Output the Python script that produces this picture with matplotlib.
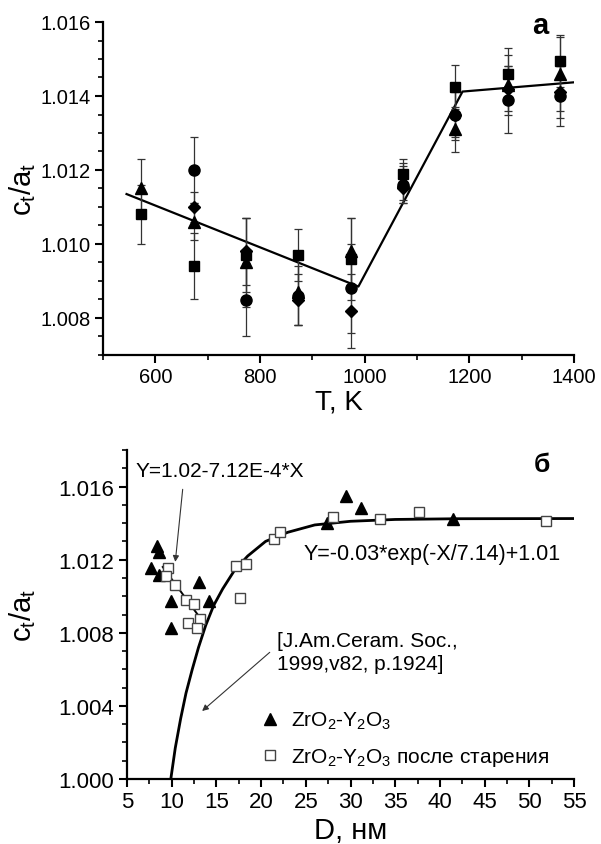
import numpy as np
import matplotlib
matplotlib.use("Agg")
import matplotlib.pyplot as plt
from matplotlib.ticker import MultipleLocator

plt.rcParams['font.family'] = ['Liberation Sans', 'DejaVu Sans']
plt.rcParams['mathtext.default'] = 'regular'

# ---------------- panel a data ----------------
T = [573, 673, 773, 873, 973, 1073, 1173, 1273, 1373]
c_square = [1.0108, 1.0094, 1.0097, 1.0097, 1.0096, 1.0119, 1.01425, 1.0146, 1.01495]
c_circle = [np.nan, 1.0120, 1.0085, 1.0086, 1.0088, 1.0116, 1.0135, 1.0139, 1.0140]
c_triangle = [1.0115, 1.0106, 1.0095, 1.0087, 1.0098, 1.0117, 1.0131, 1.0143, 1.0146]
c_diamond = [np.nan, 1.0110, 1.0098, 1.0085, 1.0082, 1.0115, 1.0135, 1.0142, 1.0141]
err_square = [0.0008, 0.0009, 0.0010, 0.0007, 0.0011, 0.0004, 0.0006, 0.0007, 0.0007]
err_circle = [np.nan, 0.0009, 0.0010, 0.0008, 0.0012, 0.0005, 0.0007, 0.0009, 0.0008]
err_triangle = [0.0008, 0.0005, 0.0012, 0.0009, 0.0009, 0.0005, 0.0006, 0.0008, 0.0010]
err_diamond = [np.nan, 0.0004, 0.0009, 0.0007, 0.0010, 0.0004, 0.0006, 0.0006, 0.0007]
fit_T = [545, 988, 1187, 1400]
fit_c = [1.01135, 1.00885, 1.01412, 1.01437]

# ---------------- panel b data ----------------
D_tri = [8.36, 8.58, 7.68, 8.58, 13.05, 9.92, 14.17, 9.92, 29.5, 31.2, 27.4, 41.5]
c_tri = [1.01277, 1.01244, 1.01156, 1.01118, 1.0108, 1.00975, 1.00975, 1.00827,
         1.0155, 1.0148, 1.01398, 1.0142]
D_sq = [9.6, 9.4, 10.4, 11.6, 12.5, 13.2, 11.8, 12.8, 17.2, 18.3, 17.6, 21.4, 22.1,
        28.0, 33.3, 37.7, 51.9]
c_sq = [1.01156, 1.01113, 1.01063, 1.0098, 1.00959, 1.00877, 1.00855, 1.00827,
        1.01167, 1.01178, 1.00992, 1.01315, 1.01353, 1.01436, 1.0142, 1.01463, 1.01414]
lin_D = [9.0, 13.5]
lin_c = [1.0116, 1.0086]
exp_D = [9.9, 10.4, 11.0, 11.6, 12.3, 13.0, 13.8, 14.7, 15.7, 17.0, 18.5, 20.5,
         23.0, 26.0, 30.0, 35.0, 42.0, 55.0]
exp_c = [1.0000, 1.0017, 1.0033, 1.0047, 1.0060, 1.0072, 1.0084, 1.0095, 1.0104,
         1.0114, 1.0122, 1.0130, 1.0135, 1.0139, 1.0141, 1.0142, 1.01424, 1.01425]

fig = plt.figure(figsize=(6.01, 8.45), dpi=100)

def style_axes(ax, fs):
    for s in ['top', 'right']:
        ax.spines[s].set_visible(False)
    for s in ['left', 'bottom']:
        ax.spines[s].set_linewidth(1.6)
    ax.tick_params(which='major', direction='out', length=6, width=1.5, labelsize=fs, pad=3)
    ax.tick_params(which='minor', direction='out', length=3.5, width=1.2)

# ---------------- panel a ----------------
ax1 = fig.add_axes([103/601, 1-356/845, (574-103)/601, (356-23)/845])
style_axes(ax1, 14.5)
ax1.plot(fit_T, fit_c, color='black', lw=1.6, zorder=2)
ebkw = dict(ecolor='#333333', elinewidth=0.9, capsize=3, capthick=0.9, ls='none',
            color='black', zorder=3)
ax1.errorbar(T, c_square, yerr=err_square, marker='s', ms=7, **ebkw)
ax1.errorbar(T, c_circle, yerr=err_circle, marker='o', ms=8, **ebkw)
ax1.errorbar(T, c_triangle, yerr=err_triangle, marker='^', ms=8, **ebkw)
ax1.errorbar(T, c_diamond, yerr=err_diamond, marker='D', ms=6.5, **ebkw)
ax1.set_xlim(500, 1400)
ax1.set_ylim(1.007, 1.016)
ax1.xaxis.set_major_locator(MultipleLocator(200))
ax1.xaxis.set_minor_locator(MultipleLocator(100))
ax1.yaxis.set_major_locator(MultipleLocator(0.002))
ax1.yaxis.set_minor_locator(MultipleLocator(0.0005))
ax1.yaxis.set_major_formatter(matplotlib.ticker.FormatStrFormatter('%.3f'))
ax1.set_xlabel('T, K', fontsize=20)
ax1.set_ylabel('c$_t$/a$_t$', fontsize=21)
ax1.xaxis.set_label_coords(0.5, -0.102)
ax1.yaxis.set_label_coords(-0.138, 0.5)
ax1.text(0.928, 0.99, 'а', transform=ax1.transAxes, fontsize=21, fontweight='bold',
         ha='center', va='center')

# ---------------- panel b ----------------
ax2 = fig.add_axes([127/601, 1-780/845, (574-127)/601, (780-451)/845])
style_axes(ax2, 16)
ax2.plot(exp_D, exp_c, color='black', lw=2.0, zorder=2)
ax2.plot(lin_D, lin_c, color='black', lw=1.4, zorder=2)
ax2.plot(D_tri, c_tri, ls='none', marker='^', ms=8.5, color='black',
         label='ZrO$_2$-Y$_2$O$_3$', zorder=3)
ax2.plot(D_sq, c_sq, ls='none', marker='s', ms=7.5, mfc='white', mec='#444444', mew=1.0,
         label='ZrO$_2$-Y$_2$O$_3$ после старения', zorder=3)
ax2.set_xlim(5, 55)
ax2.set_ylim(1.000, 1.018)
ax2.xaxis.set_major_locator(MultipleLocator(5))
ax2.xaxis.set_minor_locator(MultipleLocator(2.5))
ax2.yaxis.set_major_locator(MultipleLocator(0.004))
ax2.yaxis.set_minor_locator(MultipleLocator(0.001))
ax2.yaxis.set_major_formatter(matplotlib.ticker.FormatStrFormatter('%.3f'))
ax2.set_xlabel('D, нм', fontsize=21)
ax2.set_ylabel('c$_t$/a$_t$', fontsize=21)
ax2.xaxis.set_label_coords(0.5, -0.112)
ax2.yaxis.set_label_coords(-0.199, 0.5)

ax2.text(6.0, 1.01688, 'Y=1.02-7.12E-4*X', fontsize=15, ha='left', va='center')
ax2.annotate('', xy=(10.37, 1.01173), xytext=(11.26, 1.0160),
             arrowprops=dict(arrowstyle='-|>', color='#333333', lw=0.8, mutation_scale=9))
ax2.text(24.7, 1.01233, 'Y=-0.03*exp(-X/7.14)+1.01', fontsize=15.5, ha='left', va='center')
ax2.text(21.8, 1.00696, '[J.Am.Ceram. Soc.,\n1999,v82, p.1924]', fontsize=15,
         ha='left', va='center', linespacing=1.25)
ax2.annotate('', xy=(13.17, 1.00362), xytext=(21.2, 1.00703),
             arrowprops=dict(arrowstyle='-|>', color='#333333', lw=0.8, mutation_scale=9))
ax2.text(51.4, 1.01726, 'б', fontsize=19, fontweight='bold', ha='center', va='center')

ax2.legend(loc='upper left', bbox_to_anchor=(0.2975, 0.21), frameon=False, fontsize=15,
           handlelength=1.0, handletextpad=0.5, borderpad=0, borderaxespad=0,
           labelspacing=0.7)

fig.savefig('out.png', dpi=100)
